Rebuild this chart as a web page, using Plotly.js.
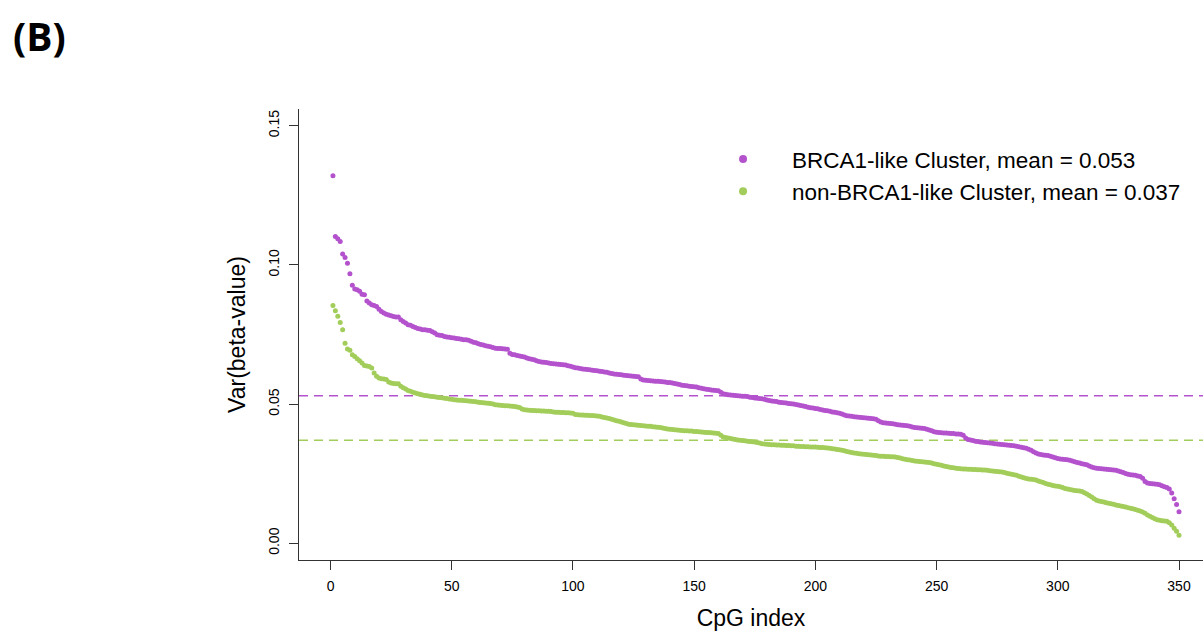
<!DOCTYPE html>
<html>
<head>
<meta charset="utf-8">
<script src="https://cdn.plot.ly/plotly-3.0.1.min.js"></script>
<style>
  html, body { margin: 0; padding: 0; background: #fff; overflow: hidden; }
  #chart { width: 1203px; height: 632px; }
</style>
</head>
<body>
<div id="chart"></div>
<script>
// ---- Data ----
const seriesNames = ["BRCA1-like Cluster, mean = 0.053", "non-BRCA1-like Cluster, mean = 0.037"];
const seriesColors = ["#B452CD", "#A2CD5A"];
const seriesMeans = [0.053, 0.037];

const brca1LikeVar = [
  0.1320,0.1102,0.1094,0.1084,0.1039,0.1027,0.1006,0.0968,0.0927,0.0913,
  0.0911,0.0905,0.0895,0.0893,0.0870,0.0863,0.0857,0.0854,0.0851,0.0841,
  0.0833,0.0827,0.0823,0.0820,0.0817,0.0815,0.0813,0.0813,0.0803,0.0797,
  0.0791,0.0785,0.0783,0.0779,0.0775,0.0772,0.0770,0.0767,0.0767,0.0765,
  0.0764,0.0760,0.0755,0.0749,0.0747,0.0746,0.0743,0.0741,0.0740,0.0738,
  0.0737,0.0736,0.0735,0.0733,0.0731,0.0731,0.0729,0.0726,0.0722,0.0720,
  0.0717,0.0714,0.0712,0.0710,0.0708,0.0706,0.0703,0.0701,0.0700,0.0700,
  0.0699,0.0698,0.0697,0.0683,0.0678,0.0677,0.0675,0.0673,0.0671,0.0669,
  0.0666,0.0663,0.0661,0.0659,0.0656,0.0653,0.0651,0.0650,0.0649,0.0648,
  0.0646,0.0645,0.0644,0.0643,0.0642,0.0641,0.0640,0.0638,0.0636,0.0633,
  0.0631,0.0630,0.0628,0.0626,0.0625,0.0624,0.0623,0.0622,0.0621,0.0620,
  0.0618,0.0617,0.0615,0.0614,0.0612,0.0610,0.0608,0.0607,0.0606,0.0605,
  0.0604,0.0603,0.0602,0.0601,0.0600,0.0599,0.0598,0.0590,0.0587,0.0586,
  0.0585,0.0584,0.0583,0.0582,0.0582,0.0581,0.0580,0.0579,0.0578,0.0578,
  0.0576,0.0574,0.0572,0.0570,0.0568,0.0567,0.0566,0.0564,0.0563,0.0562,
  0.0561,0.0559,0.0557,0.0555,0.0553,0.0552,0.0551,0.0550,0.0549,0.0548,
  0.0543,0.0537,0.0535,0.0534,0.0533,0.0532,0.0531,0.0530,0.0529,0.0528,
  0.0528,0.0527,0.0525,0.0524,0.0522,0.0521,0.0520,0.0519,0.0517,0.0515,
  0.0513,0.0511,0.0510,0.0509,0.0507,0.0506,0.0505,0.0504,0.0502,0.0501,
  0.0500,0.0499,0.0497,0.0495,0.0493,0.0491,0.0489,0.0487,0.0486,0.0484,
  0.0483,0.0481,0.0479,0.0477,0.0476,0.0474,0.0472,0.0471,0.0469,0.0467,
  0.0464,0.0461,0.0458,0.0457,0.0456,0.0455,0.0454,0.0453,0.0452,0.0451,
  0.0450,0.0449,0.0448,0.0447,0.0446,0.0440,0.0436,0.0433,0.0432,0.0431,
  0.0430,0.0429,0.0428,0.0426,0.0425,0.0424,0.0423,0.0422,0.0420,0.0418,
  0.0416,0.0415,0.0414,0.0413,0.0412,0.0410,0.0407,0.0404,0.0401,0.0399,
  0.0398,0.0397,0.0396,0.0396,0.0395,0.0394,0.0394,0.0393,0.0393,0.0392,
  0.0388,0.0378,0.0373,0.0371,0.0369,0.0367,0.0366,0.0364,0.0363,0.0362,
  0.0361,0.0360,0.0359,0.0358,0.0357,0.0356,0.0355,0.0354,0.0353,0.0352,
  0.0351,0.0350,0.0349,0.0347,0.0345,0.0343,0.0341,0.0338,0.0334,0.0329,
  0.0324,0.0321,0.0319,0.0317,0.0316,0.0315,0.0313,0.0310,0.0307,0.0305,
  0.0303,0.0302,0.0301,0.0300,0.0298,0.0296,0.0293,0.0290,0.0288,0.0286,
  0.0284,0.0282,0.0278,0.0274,0.0271,0.0270,0.0269,0.0268,0.0267,0.0266,
  0.0265,0.0264,0.0263,0.0262,0.0260,0.0257,0.0254,0.0251,0.0248,0.0246,
  0.0245,0.0244,0.0242,0.0240,0.0234,0.0222,0.0217,0.0215,0.0214,0.0213,
  0.0212,0.0210,0.0207,0.0203,0.0200,0.0195,0.0181,0.0160,0.0139,0.0113
];

const nonBrca1LikeVar = [
  0.0854,0.0835,0.0816,0.0793,0.0767,0.0719,0.0698,0.0693,0.0677,0.0671,
  0.0663,0.0656,0.0648,0.0639,0.0637,0.0635,0.0630,0.0612,0.0600,0.0594,
  0.0591,0.0590,0.0588,0.0579,0.0576,0.0574,0.0573,0.0573,0.0564,0.0559,
  0.0554,0.0549,0.0546,0.0543,0.0540,0.0537,0.0535,0.0533,0.0531,0.0530,
  0.0528,0.0527,0.0526,0.0525,0.0524,0.0523,0.0521,0.0520,0.0518,0.0517,
  0.0516,0.0515,0.0514,0.0514,0.0513,0.0512,0.0511,0.0510,0.0509,0.0508,
  0.0507,0.0506,0.0505,0.0504,0.0503,0.0502,0.0500,0.0498,0.0497,0.0496,
  0.0495,0.0494,0.0494,0.0493,0.0492,0.0491,0.0490,0.0488,0.0482,0.0480,
  0.0479,0.0478,0.0477,0.0477,0.0476,0.0476,0.0475,0.0475,0.0474,0.0474,
  0.0473,0.0472,0.0471,0.0471,0.0470,0.0470,0.0469,0.0469,0.0468,0.0467,
  0.0463,0.0462,0.0461,0.0461,0.0460,0.0460,0.0459,0.0459,0.0458,0.0457,
  0.0456,0.0454,0.0452,0.0450,0.0448,0.0446,0.0443,0.0440,0.0438,0.0436,
  0.0433,0.0430,0.0428,0.0427,0.0426,0.0425,0.0424,0.0423,0.0422,0.0421,
  0.0420,0.0420,0.0419,0.0418,0.0417,0.0416,0.0414,0.0412,0.0411,0.0410,
  0.0409,0.0408,0.0407,0.0406,0.0405,0.0404,0.0404,0.0403,0.0403,0.0402,
  0.0402,0.0401,0.0400,0.0399,0.0398,0.0398,0.0397,0.0396,0.0395,0.0394,
  0.0388,0.0382,0.0380,0.0378,0.0376,0.0375,0.0373,0.0371,0.0370,0.0369,
  0.0368,0.0367,0.0366,0.0365,0.0364,0.0362,0.0360,0.0358,0.0357,0.0356,
  0.0355,0.0354,0.0354,0.0353,0.0353,0.0352,0.0352,0.0351,0.0351,0.0350,
  0.0350,0.0349,0.0349,0.0348,0.0348,0.0347,0.0347,0.0346,0.0346,0.0346,
  0.0345,0.0344,0.0344,0.0343,0.0342,0.0341,0.0340,0.0339,0.0337,0.0336,
  0.0334,0.0332,0.0330,0.0328,0.0326,0.0324,0.0323,0.0322,0.0321,0.0320,
  0.0319,0.0318,0.0317,0.0316,0.0315,0.0314,0.0313,0.0313,0.0312,0.0312,
  0.0311,0.0311,0.0310,0.0308,0.0306,0.0304,0.0302,0.0300,0.0299,0.0297,
  0.0296,0.0295,0.0294,0.0293,0.0292,0.0291,0.0290,0.0288,0.0286,0.0284,
  0.0282,0.0280,0.0278,0.0276,0.0274,0.0272,0.0271,0.0270,0.0269,0.0268,
  0.0267,0.0267,0.0266,0.0266,0.0265,0.0265,0.0264,0.0264,0.0263,0.0263,
  0.0262,0.0261,0.0260,0.0259,0.0258,0.0257,0.0256,0.0254,0.0252,0.0250,
  0.0248,0.0246,0.0244,0.0241,0.0238,0.0235,0.0233,0.0231,0.0230,0.0229,
  0.0227,0.0224,0.0221,0.0218,0.0215,0.0212,0.0210,0.0208,0.0206,0.0205,
  0.0203,0.0200,0.0197,0.0195,0.0193,0.0191,0.0190,0.0189,0.0188,0.0186,
  0.0182,0.0177,0.0172,0.0166,0.0160,0.0155,0.0152,0.0150,0.0148,0.0146,
  0.0144,0.0142,0.0140,0.0138,0.0136,0.0134,0.0132,0.0130,0.0128,0.0126,
  0.0124,0.0121,0.0119,0.0116,0.0112,0.0108,0.0102,0.0097,0.0093,0.0088,
  0.0085,0.0083,0.0081,0.0080,0.0079,0.0074,0.0066,0.0054,0.0043,0.0029
];

const xTickVals = [0, 50, 100, 150, 200, 250, 300, 350];
const yTickVals = [0.00, 0.05, 0.10, 0.15];
const yTickText = ["0.00", "0.05", "0.10", "0.15"];

// CpG index = position in the sorted list
const cpgIndex = brca1LikeVar.map((_, i) => i + 1);
const seriesValues = [brca1LikeVar, nonBrca1LikeVar];

const FONT = "Liberation Sans, Arial, Helvetica, sans-serif";

const traces = [];
seriesValues.forEach((vals, k) => {
  traces.push({
    type: "scatter", mode: "markers",
    x: cpgIndex, y: vals,
    marker: { color: seriesColors[k], size: 5, line: { width: 0 } },
    showlegend: false, hoverinfo: "x+y", name: seriesNames[k]
  });
});
// legend-only entries (bigger dots, as in the reference legend)
seriesNames.forEach((nm, k) => {
  traces.push({
    type: "scatter", mode: "markers",
    x: [null], y: [null], name: nm,
    marker: { color: seriesColors[k], size: 8, line: { width: 0 } },
    showlegend: true
  });
});

const shapes = seriesMeans.map((m, k) => ({
  type: "line", xref: "paper", x0: 0, x1: 1, yref: "y", y0: m, y1: m,
  line: { color: seriesColors[k], width: 1.6, dash: "9px,6px" },
  layer: "below"
}));

const layout = {
  width: 1203, height: 632,
  margin: { l: 299, r: 0, t: 109, b: 72, pad: 0 },
  paper_bgcolor: "#ffffff", plot_bgcolor: "#ffffff",
  font: { family: FONT, color: "#000000", size: 14 },
  xaxis: {
    range: [-13, 359.9], tickvals: xTickVals,
    showgrid: false, zeroline: false,
    showline: true, linecolor: "#333333", linewidth: 1,
    ticks: "outside", ticklen: 9, tickwidth: 1, tickcolor: "#333333",
    tickfont: { size: 14, family: FONT, color: "#000" },
    ticklabelstandoff: 4,
    title: { text: "CpG index", font: { size: 23, family: FONT }, standoff: 17 },
    automargin: false
  },
  yaxis: {
    range: [-0.006, 0.156], tickvals: yTickVals, ticktext: yTickText,
    showgrid: false, zeroline: false,
    showline: true, linecolor: "#333333", linewidth: 1,
    ticks: "outside", ticklen: 9, tickwidth: 1, tickcolor: "#333333",
    tickangle: -90,
    tickfont: { size: 14, family: FONT, color: "#000" },
    ticklabelstandoff: 4,
    title: { text: "Var(beta-value)", font: { size: 23, family: FONT }, standoff: 14 },
    automargin: false
  },
  showlegend: true,
  legend: {
    x: 0.437, y: 0.9357, xanchor: "left", yanchor: "top",
    bgcolor: "rgba(0,0,0,0)", borderwidth: 0,
    font: { size: 22.5, family: FONT, color: "#000" },
    itemwidth: 88, tracegroupgap: 0
  },
  shapes: shapes,
  annotations: [{
    text: "<b>(B)</b>", xref: "paper", yref: "paper",
    x: -0.319, y: 1.162, xanchor: "left", yanchor: "middle",
    showarrow: false,
    font: { size: 39, family: "Open Sans, Liberation Sans, Arial, sans-serif", color: "#000" }
  }]
};

Plotly.newPlot("chart", traces, layout, { displayModeBar: false, staticPlot: true });
</script>
</body>
</html>
